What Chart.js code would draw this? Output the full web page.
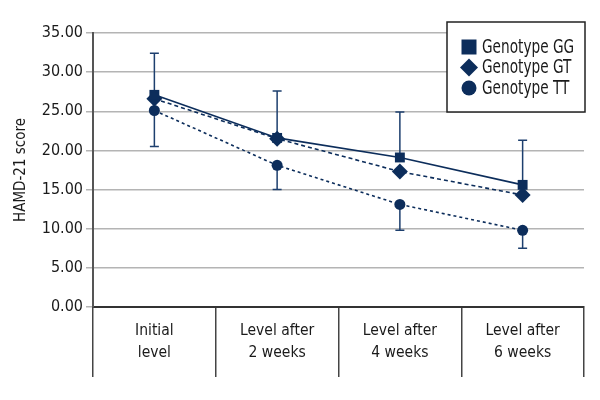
<!DOCTYPE html>
<html>
<head>
<meta charset="utf-8">
<script src="https://cdn.jsdelivr.net/npm/chart.js@4/dist/chart.umd.min.js"></script>
<style>
  html, body { margin: 0; padding: 0; background: #fff; }
</style>
</head>
<body>
<canvas id="chart" width="600" height="400"></canvas>
<script>
// data
const categories = [['Initial', 'level'], ['Level after', '2 weeks'], ['Level after', '4 weeks'], ['Level after', '6 weeks']];
const seriesNames = ['Genotype GG', 'Genotype GT', 'Genotype TT'];
const gg = [27.1, 21.6, 19.1, 15.6];
const gt = [26.6, 21.5, 17.3, 14.3];
const tt = [25.1, 18.1, 13.1, 9.8];
const ggUpper = [32.4, 27.6, 24.9, 21.3];  // top of GG error bar
const ttLower = [20.5, 15.0, 9.8, 7.5];    // bottom of TT error bar
const yTicks = [0, 5, 10, 15, 20, 25, 30, 35];

const NAVY = '#0c2d5b';
const FONT = '"DejaVu Sans Condensed", "Liberation Sans Narrow", sans-serif';

// error bars: GG upward, TT downward
const errorBars = {
  id: 'errorBars',
  beforeDatasetsDraw(chart) {
    const { ctx, scales: { x, y } } = chart;
    ctx.save();
    ctx.strokeStyle = '#1d3f6e';
    ctx.lineWidth = 1.5;
    const cap = 4.5;
    categories.forEach((c, i) => {
      const px = x.getPixelForValue(i);
      [[gg[i], ggUpper[i]], [tt[i], ttLower[i]]].forEach(([from, to]) => {
        const y0 = y.getPixelForValue(from), y1 = y.getPixelForValue(to);
        ctx.beginPath();
        ctx.moveTo(px, y0); ctx.lineTo(px, y1);
        ctx.moveTo(px - cap, y1); ctx.lineTo(px + cap, y1);
        ctx.stroke();
      });
    });
    ctx.restore();
  }
};

// boxed legend in the top-right corner
const boxLegend = {
  id: 'boxLegend',
  afterDraw(chart) {
    const { ctx } = chart;
    const bx = 447, by = 22, bw = 138, bh = 90;
    ctx.save();
    ctx.fillStyle = '#fff';
    ctx.fillRect(bx, by, bw, bh);
    ctx.strokeStyle = '#222';
    ctx.lineWidth = 1.5;
    ctx.strokeRect(bx, by, bw, bh);
    const styles = ['rect', 'rectRot', 'circle'];
    chart.data.datasets.forEach((ds, i) => {
      const cy = 47 + i * 20.5, cx = 469;
      ctx.fillStyle = NAVY;
      ctx.beginPath();
      if (styles[i] === 'rect') ctx.rect(cx - 7.5, cy - 7.5, 15, 15);
      else if (styles[i] === 'rectRot') {
        ctx.moveTo(cx, cy - 9); ctx.lineTo(cx + 9, cy); ctx.lineTo(cx, cy + 9); ctx.lineTo(cx - 9, cy);
        ctx.closePath();
      } else ctx.arc(cx, cy, 7.5, 0, Math.PI * 2);
      ctx.fill();
      // narrow the text so it fits like the condensed face of the original
      ctx.save();
      ctx.translate(482, cy + 1);
      ctx.scale(0.8, 1);
      ctx.fillStyle = '#1a1a1a';
      ctx.font = '19px ' + FONT;
      ctx.textBaseline = 'middle';
      ctx.fillText(ds.label, 0, 0);
      ctx.restore();
    });
    ctx.restore();
  }
};

new Chart(document.getElementById('chart'), {
  type: 'line',
  data: {
    labels: categories,
    datasets: [
      { label: seriesNames[0], data: gg, borderColor: NAVY, backgroundColor: NAVY, borderWidth: 1.6,
        pointStyle: 'rect', pointRadius: 7, pointBorderWidth: 0 },
      { label: seriesNames[1], data: gt, borderColor: NAVY, backgroundColor: NAVY, borderWidth: 1.6,
        borderDash: [4, 3], pointStyle: 'rectRot', pointRadius: 8, pointBorderWidth: 0 },
      { label: seriesNames[2], data: tt, borderColor: NAVY, backgroundColor: NAVY, borderWidth: 1.6,
        borderDash: [3, 3], pointStyle: 'circle', pointRadius: 5.5, pointBorderWidth: 0 },
    ],
  },
  options: {
    responsive: false,
    animation: false,
    layout: { padding: { top: 33, right: 16, left: 0, bottom: 0 } },
    plugins: { legend: { display: false }, tooltip: { enabled: false } },
    scales: {
      x: {
        offset: true,
        afterFit: s => { s.height = 93; },
        grid: { offset: true, drawOnChartArea: false, tickLength: 70, color: '#444', lineWidth: 1.5 },
        border: { color: '#333', width: 2 },
        ticks: { padding: -57, autoSkip: false, color: '#1a1a1a', font: { family: FONT, size: 15.5, lineHeight: 1.4 }, maxRotation: 0 },
      },
      y: {
        min: 0, max: 35,
        afterFit: s => { s.width = 93; },
        afterBuildTicks: s => { s.ticks = yTicks.map(v => ({ value: v })); },
        grid: { color: '#b4b4b4', lineWidth: 1.5, tickLength: 7 },
        border: { color: '#555', width: 2 },
        ticks: { padding: 3, autoSkip: false, color: '#1a1a1a', font: { family: FONT, size: 16 }, callback: v => v.toFixed(2) },
        title: { display: true, text: 'HAMD-21 score', color: '#1a1a1a', font: { family: FONT, size: 15 }, padding: { top: 12, bottom: 0 } },
      },
    },
  },
  plugins: [errorBars, boxLegend],
});
</script>
</body>
</html>
